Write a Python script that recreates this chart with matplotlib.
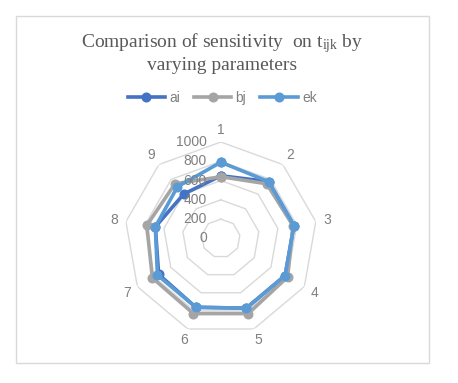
import numpy as np
import matplotlib
matplotlib.use("Agg")
import matplotlib.pyplot as plt
from matplotlib.patches import Rectangle
from matplotlib.transforms import ScaledTranslation

categories = ["1", "2", "3", "4", "5", "6", "7", "8", "9"]
ai = [650, 770, 770, 770, 770, 760, 745, 690, 600]
bj = [640, 740, 760, 800, 830, 830, 820, 780, 740]
ek = [790, 770, 770, 770, 770, 760, 760, 690, 700]
ring_values = [200, 400, 600, 800, 1000]
tick_labels = ["0", "200", "400", "600", "800", "1000"]
tick_values = [0, 200, 400, 600, 800, 1000]

plt.rcParams['mathtext.fontset'] = 'custom'
plt.rcParams['mathtext.rm'] = 'Liberation Serif'
plt.rcParams['mathtext.it'] = 'Liberation Serif:italic'

DPI = 100
fig = plt.figure(figsize=(4.58, 3.83), dpi=DPI)
fig.patch.set_facecolor('white')

# chart border
fig.patches.append(Rectangle((16/458, 20/383), 413/458, 347/383, transform=fig.transFigure,
                             fill=False, edgecolor='#D9D9D9', linewidth=1.0))

ax = fig.add_axes([0.2717, 0.1258, 0.421, 0.5034], projection='polar')
ax.set_theta_zero_location('N')
ax.set_theta_direction(-1)
ax.set_ylim(0, 1000)
ax.grid(False)
ax.spines['polar'].set_visible(False)
ax.set_xticks([])
ax.set_yticks([])
ax.patch.set_alpha(0)

n = len(categories)
theta = np.arange(n) * 2 * np.pi / n
theta_c = np.append(theta, theta[0])

for rv in ring_values:
    ax.plot(theta_c, [rv] * (n + 1), color='#D9D9D9', lw=1.0, zorder=1)

colors = {'ai': '#4472C4', 'bj': '#A5A5A5', 'ek': '#5B9BD5'}
handles = []
for name, vals in [('ai', ai), ('bj', bj), ('ek', ek)]:
    v = np.append(vals, vals[0])
    h, = ax.plot(theta_c, v, color=colors[name], lw=2.6, marker='o', markersize=6.2,
                 label=name, zorder=3, solid_joinstyle='round')
    handles.append(h)

gray = '#808080'
lab_font = dict(family='Liberation Sans', size=10, color=gray)
off = ScaledTranslation(-14 / DPI, 0, fig.dpi_scale_trans)
for tv, tl in zip(tick_values, tick_labels):
    ax.text(0, tv, tl, ha='right', va='center', transform=ax.transData + off,
            zorder=4, **lab_font)

for t, c in zip(theta, categories):
    ax.text(t, 1125, c, ha='center', va='center', clip_on=False, **lab_font)

fig.text(0.485, 0.888, r"Comparison of sensitivity  on t$_{\mathrm{ijk}}$ by",
         ha='center', va='center', family='Liberation Serif', size=14, color='#595959')
fig.text(0.485, 0.828, "varying parameters",
         ha='center', va='center', family='Liberation Serif', size=14, color='#595959')

fig.legend(handles=handles, labels=['ai', 'bj', 'ek'], loc='center',
           bbox_to_anchor=(0.485, 0.744), ncol=3, frameon=False,
           prop={'family': 'Liberation Sans', 'size': 10}, labelcolor=gray,
           handlelength=2.7, handletextpad=0.3, columnspacing=1.0)

fig.savefig('out.png', dpi=DPI, facecolor='white')
